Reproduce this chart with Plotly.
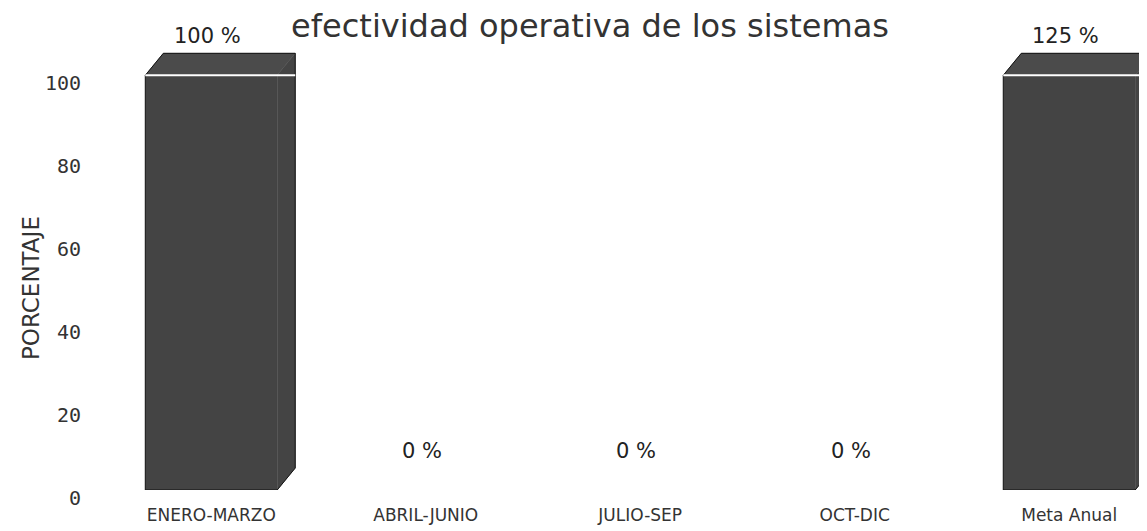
import plotly.graph_objects as go

# ---- data ----
categories = ["ENERO-MARZO", "ABRIL-JUNIO", "JULIO-SEP", "OCT-DIC", "Meta Anual"]
values = [100, 0, 0, 0, 125]
y_ticks = [0, 20, 40, 60, 80, 100]
title_text = "efectividad operativa de los sistemas"
y_title = "PORCENTAJE"

# ---- styling / geometry (not data) ----
AXIS_MAX = 100          # the chart's value axis stops at 100 -> taller bars are cut
BAR_W = 0.615
DX, DY = 0.084, 5.3     # 3D depth offsets in axis units
FACE = "#444444"
TOP = "#4b4b4b"

xs = list(range(len(categories)))
shown = [min(v, AXIS_MAX) for v in values]

fig = go.Figure()

# front faces
fig.add_trace(go.Bar(
    x=xs, y=shown, width=BAR_W,
    marker=dict(color=FACE, line=dict(width=0)),
    hoverinfo="skip", showlegend=False,
))

# side / top faces and silhouette (3D look), built from the data
sx, sy, tx, ty, ox, oy, wx, wy = [], [], [], [], [], [], [], []
for x, h in zip(xs, shown):
    if h <= 0:
        continue
    l, r = x - BAR_W / 2, x + BAR_W / 2
    sx += [r, r + DX, r + DX, r, r, None]
    sy += [0, DY, h + DY, h, 0, None]
    tx += [l, r, r + DX, l + DX, l, None]
    ty += [h, h, h + DY, h + DY, h, None]
    ox += [l, l, l + DX, r + DX, r + DX, r, l, None]
    oy += [0, h, h + DY, h + DY, DY, 0, 0, None]
    wx += [l, r + DX, None]
    wy += [h, h, None]

fig.add_trace(go.Scatter(x=sx, y=sy, mode="lines", fill="toself", fillcolor=FACE,
                         line=dict(color=FACE, width=0.5), hoverinfo="skip", showlegend=False))
fig.add_trace(go.Scatter(x=tx, y=ty, mode="lines", fill="toself", fillcolor=TOP,
                         line=dict(color=TOP, width=0.5), hoverinfo="skip", showlegend=False))
fig.add_trace(go.Scatter(x=ox, y=oy, mode="lines",
                         line=dict(color="#111", width=1), hoverinfo="skip", showlegend=False))
fig.add_trace(go.Scatter(x=wx, y=wy, mode="lines",
                         line=dict(color="white", width=2), hoverinfo="skip", showlegend=False))

# value labels
for x, v, h in zip(xs, values, shown):
    fig.add_annotation(x=x, y=h + DY, text=f"{v} %", showarrow=False,
                       yanchor="bottom", yshift=3, xshift=-4,
                       font=dict(family="DejaVu Sans", size=21, color="#222"))

# y axis title (placed like the original, left of the tick labels)
fig.add_annotation(xref="paper", yref="paper", x=(23 - 96) / 1051, y=(482 - 280) / 452,
                   text=y_title, textangle=-90, showarrow=False,
                   xanchor="center", yanchor="middle",
                   font=dict(family="DejaVu Sans", size=23, color="#333"))

fig.update_layout(
    width=1147, height=531,
    margin=dict(l=96, r=0, t=30, b=49),
    paper_bgcolor="white", plot_bgcolor="white",
    title=dict(text=title_text, x=582 / 1147, xanchor="center", xref="container",
               y=1 - 18 / 531, yref="container", yanchor="middle",
               font=dict(family="DejaVu Sans", size=32, color="#333")),
)

fig.update_xaxes(
    range=[-0.5, 4.4], tickvals=xs, ticktext=categories,
    showgrid=False, zeroline=False, showline=False, ticks="",
    ticklabelstandoff=13,
    tickfont=dict(family="DejaVu Sans", size=17, color="#333"),
)
fig.update_yaxes(
    range=[0, 109], tickvals=y_ticks, ticktext=[str(t) for t in y_ticks],
    showgrid=False, zeroline=False, showline=False, ticks="",
    ticklabelstandoff=22, ticklabelshift=8,
    tickfont=dict(family="DejaVu Sans Mono", size=20, color="#333"),
)

fig.write_html("out.html")
